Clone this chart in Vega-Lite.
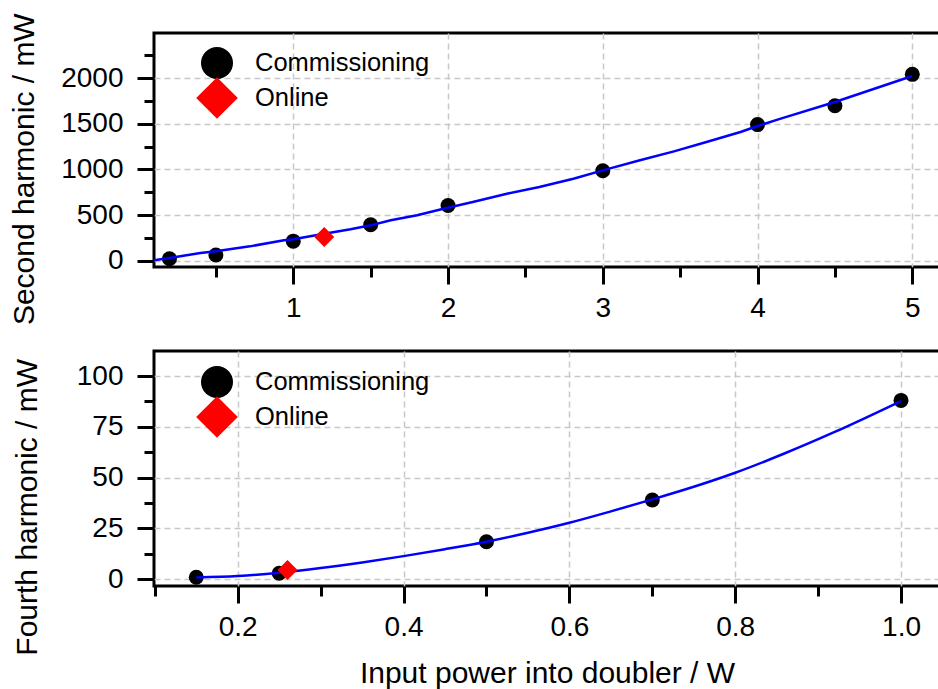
{
  "$schema": "https://vega.github.io/schema/vega-lite/v6.json",
  "padding": {"left": 7, "top": 11, "right": 0, "bottom": 0},
  "background": "white",
  "datasets": {
    "top_pts": [
      {"power": 0.2, "harmonic": 22, "series": "Commissioning"},
      {"power": 0.5, "harmonic": 62, "series": "Commissioning"},
      {"power": 1.0, "harmonic": 214, "series": "Commissioning"},
      {"power": 1.5, "harmonic": 394, "series": "Commissioning"},
      {"power": 2.0, "harmonic": 604, "series": "Commissioning"},
      {"power": 3.0, "harmonic": 985, "series": "Commissioning"},
      {"power": 4.0, "harmonic": 1490, "series": "Commissioning"},
      {"power": 4.5, "harmonic": 1697, "series": "Commissioning"},
      {"power": 5.0, "harmonic": 2040, "series": "Commissioning"}
    ],
    "top_online": [
      {"power": 1.2, "harmonic": 259, "series": "Online"}
    ],
    "top_fit": [
      {"power": 0.1, "harmonic": 4},
      {"power": 0.2, "harmonic": 30},
      {"power": 0.4, "harmonic": 84},
      {"power": 0.5, "harmonic": 103},
      {"power": 0.72, "harmonic": 157},
      {"power": 0.94, "harmonic": 223},
      {"power": 1.0, "harmonic": 234},
      {"power": 1.2, "harmonic": 296},
      {"power": 1.37, "harmonic": 344},
      {"power": 1.5, "harmonic": 387},
      {"power": 1.63, "harmonic": 442},
      {"power": 1.8, "harmonic": 497},
      {"power": 1.97, "harmonic": 569},
      {"power": 2.16, "harmonic": 643},
      {"power": 2.38, "harmonic": 733},
      {"power": 2.59, "harmonic": 807},
      {"power": 2.81, "harmonic": 898},
      {"power": 3.0, "harmonic": 989},
      {"power": 3.24, "harmonic": 1099},
      {"power": 3.46, "harmonic": 1197},
      {"power": 3.67, "harmonic": 1299},
      {"power": 3.89, "harmonic": 1409},
      {"power": 4.0, "harmonic": 1475},
      {"power": 4.15, "harmonic": 1555},
      {"power": 4.5, "harmonic": 1737},
      {"power": 5.0, "harmonic": 2022}
    ],
    "bot_pts": [
      {"power": 0.15, "harmonic": 1, "series": "Commissioning"},
      {"power": 0.25, "harmonic": 3, "series": "Commissioning"},
      {"power": 0.5, "harmonic": 18.5, "series": "Commissioning"},
      {"power": 0.7, "harmonic": 39, "series": "Commissioning"},
      {"power": 1.0, "harmonic": 88, "series": "Commissioning"}
    ],
    "bot_online": [
      {"power": 0.26, "harmonic": 4.6, "series": "Online"}
    ],
    "bot_fit": [
      {"power": 0.15, "harmonic": 0.9},
      {"power": 0.2, "harmonic": 1.6},
      {"power": 0.25, "harmonic": 3.2},
      {"power": 0.3, "harmonic": 5.5},
      {"power": 0.35, "harmonic": 8.3},
      {"power": 0.4, "harmonic": 11.4},
      {"power": 0.45, "harmonic": 14.8},
      {"power": 0.5, "harmonic": 18.5},
      {"power": 0.55, "harmonic": 22.9},
      {"power": 0.6, "harmonic": 27.8},
      {"power": 0.65, "harmonic": 33.4},
      {"power": 0.7, "harmonic": 39.3},
      {"power": 0.75, "harmonic": 45.5},
      {"power": 0.8, "harmonic": 52.4},
      {"power": 0.86, "harmonic": 62},
      {"power": 0.92, "harmonic": 72.5},
      {"power": 1.0, "harmonic": 87.7}
    ]
  },
  "spacing": 22,
  "resolve": {
    "scale": {"x": "independent", "y": "independent", "color": "independent", "shape": "independent"},
    "axis": {"x": "independent", "y": "independent"},
    "legend": {"color": "independent", "shape": "independent"}
  },
  "vconcat": [
    {
      "width": 786,
      "height": 234,
      "encoding": {
        "x": {
          "field": "power", "type": "quantitative",
          "scale": {"domain": [0.1, 5.179], "nice": false, "zero": false},
          "axis": {
            "title": null,
            "values": [0.5, 1, 1.5, 2, 2.5, 3, 3.5, 4, 4.5, 5],
            "labelExpr": "datum.value % 1 === 0 ? format(datum.value, 'd') : ''",
            "tickSize": {"condition": {"test": "datum.value % 1 === 0", "value": 17}, "value": 10},
            "gridOpacity": {"condition": {"test": "datum.value % 1 === 0", "value": 1}, "value": 0}
          }
        },
        "y": {
          "field": "harmonic", "type": "quantitative",
          "scale": {"domain": [-69, 2493], "nice": false, "zero": false},
          "axis": {
            "title": "Second harmonic / mW",
            "values": [0, 250, 500, 750, 1000, 1250, 1500, 1750, 2000, 2250],
            "labelExpr": "datum.value % 500 === 0 ? format(datum.value, 'd') : ''",
            "tickSize": {"condition": {"test": "datum.value % 500 === 0", "value": 17}, "value": 10},
            "gridOpacity": {"condition": {"test": "datum.value % 500 === 0", "value": 1}, "value": 0},
            "titleX": -120.7,
            "titleY": 135.7
          }
        },
        "color": {"field": "series", "type": "nominal", "scale": {"domain": ["Commissioning", "Online"], "range": ["#000000", "#ff0000"]},
          "legend": {"orient": "none", "legendX": 46, "legendY": 13, "title": null, "symbolSize": 1024, "labelOffset": 21, "rowPadding": -2, "labelFontSize": 25.5}},
        "shape": {"field": "series", "type": "nominal", "scale": {"domain": ["Commissioning", "Online"], "range": ["circle", "M-1.3,0L0,-1.3L1.3,0L0,1.3Z"]}}
      },
      "layer": [
        {
          "data": {"name": "top_pts"},
          "mark": {"type": "point", "filled": true, "opacity": 1, "strokeWidth": 0, "size": 225}
        },
        {
          "data": {"name": "top_fit"},
          "mark": {"type": "line", "color": "#0000ff", "strokeWidth": 2.5},
          "encoding": {"shape": null, "color": null}
        },
        {
          "data": {"name": "top_online"},
          "mark": {"type": "point", "filled": true, "opacity": 1, "strokeWidth": 0, "size": 237}
        }
      ]
    },
    {
      "width": 786,
      "height": 235,
      "encoding": {
        "x": {
          "field": "power", "type": "quantitative",
          "scale": {"domain": [0.099, 1.047], "nice": false, "zero": false},
          "axis": {
            "title": "Input power into doubler / W",
            "values": [0.1, 0.2, 0.3, 0.4, 0.5, 0.6, 0.7, 0.8, 0.9, 1.0],
            "labelExpr": "abs(datum.value*5 - round(datum.value*5)) < 0.001 ? format(datum.value, '.1f') : ''",
            "tickSize": {"condition": {"test": "abs(datum.value*5 - round(datum.value*5)) < 0.001", "value": 17}, "value": 10},
            "gridOpacity": {"condition": {"test": "abs(datum.value*5 - round(datum.value*5)) < 0.001", "value": 1}, "value": 0},
            "titleBaseline": "alphabetic",
            "titleY": 96.7
          }
        },
        "y": {
          "field": "harmonic", "type": "quantitative",
          "scale": {"domain": [-3.3, 112.3], "nice": false, "zero": false},
          "axis": {
            "title": "Fourth harmonic / mW",
            "values": [0, 12.5, 25, 37.5, 50, 62.5, 75, 87.5, 100],
            "labelExpr": "datum.value % 25 === 0 ? format(datum.value, 'd') : ''",
            "tickSize": {"condition": {"test": "datum.value % 25 === 0", "value": 17}, "value": 10},
            "gridOpacity": {"condition": {"test": "datum.value % 25 === 0", "value": 1}, "value": 0},
            "titleX": -117.3,
            "titleY": 155.8
          }
        },
        "color": {"field": "series", "type": "nominal", "scale": {"domain": ["Commissioning", "Online"], "range": ["#000000", "#ff0000"]},
          "legend": {"orient": "none", "legendX": 46, "legendY": 14, "title": null, "symbolSize": 1024, "labelOffset": 21, "rowPadding": -2, "labelFontSize": 25.5}},
        "shape": {"field": "series", "type": "nominal", "scale": {"domain": ["Commissioning", "Online"], "range": ["circle", "M-1.3,0L0,-1.3L1.3,0L0,1.3Z"]}}
      },
      "layer": [
        {
          "data": {"name": "bot_pts"},
          "mark": {"type": "point", "filled": true, "opacity": 1, "strokeWidth": 0, "size": 225}
        },
        {
          "data": {"name": "bot_fit"},
          "mark": {"type": "line", "color": "#0000ff", "strokeWidth": 2.5, "interpolate": "monotone"},
          "encoding": {"shape": null, "color": null}
        },
        {
          "data": {"name": "bot_online"},
          "mark": {"type": "point", "filled": true, "opacity": 1, "strokeWidth": 0, "size": 237}
        }
      ]
    }
  ],
  "config": {
    "font": "Liberation Sans",
    "view": {"stroke": "#000000", "strokeWidth": 3},
    "axis": {
      "domain": false,
      "tickColor": "#000000",
      "tickWidth": 3,
      "labelFont": "Liberation Sans",
      "labelFontSize": 28,
      "labelColor": "#000000",
      "labelOverlap": false,
      "labelFlush": false,
      "titleFont": "Liberation Sans",
      "titleFontSize": 30,
      "titleFontWeight": "normal",
      "titleColor": "#000000",
      "gridColor": "#c8c8c8",
      "gridDash": [6, 4],
      "gridWidth": 1.5
    },
    "axisX": {"labelPadding": 10},
    "axisY": {"labelPadding": 14, "titleAngle": -90, "titleAlign": "center", "titleBaseline": "alphabetic"},
    "legend": {"labelFont": "Liberation Sans", "labelColor": "#000000", "labelLimit": 400}
  }
}
